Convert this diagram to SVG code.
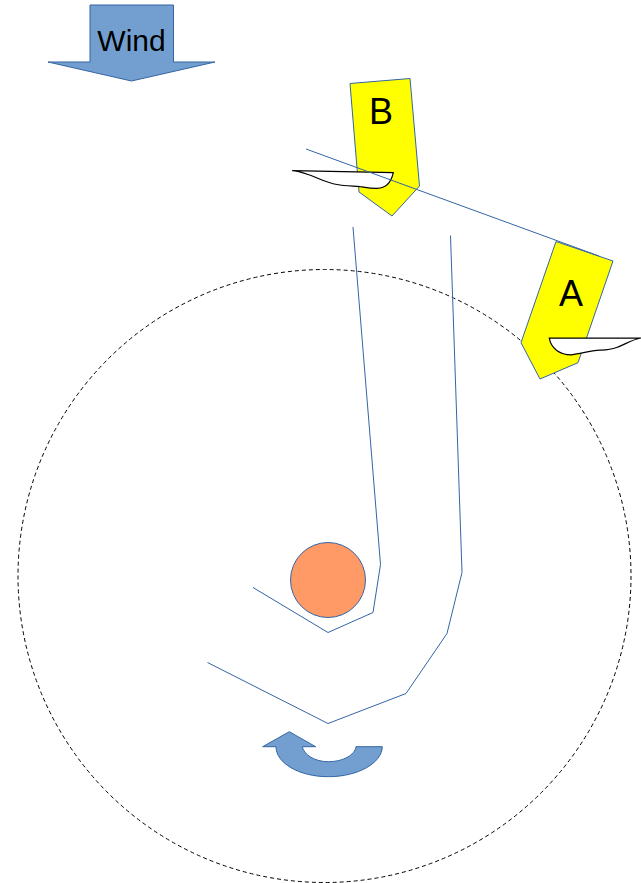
<svg xmlns="http://www.w3.org/2000/svg" width="641" height="883" viewBox="0 0 641 883">
<style>
.blue{fill:#729fcf;stroke:#3465a4;stroke-width:1}
.boat{fill:#ffff00;stroke:#3465a4;stroke-width:1}
.sail{fill:#fff;stroke:#000;stroke-width:1.2}
.line{fill:none;stroke:#3465a4;stroke-width:1}
text{font-family:"Liberation Sans",Arial,sans-serif;fill:#000;text-anchor:middle}
</style>
<rect width="641" height="883" fill="#fff"/>
<g id="orbit"><circle cx="324.5" cy="576" r="306.5" fill="none" stroke="#000" stroke-width="1" stroke-dasharray="4 3"/></g>
<g id="wind"><path class="blue" d="M90 5H173.500V62H215L131.500 81L48 62H90Z"/><text x="131.500" y="50.500" font-size="30">Wind</text></g>
<g id="boat-b"><path class="boat" d="M350 83.500L410 78.500L419.500 186L392 216L359 192Z"/><path class="sail" d="M292.300 170.700L393.300 172.700C391 183 386 188.500 376.700 188.300C368 188.500 365 187 360 186.700C352 186 345 186 337 184.500C326 183 316 177 308 174.500C302 172.500 297 171 292.300 170.700Z"/><text x="381" y="124" font-size="36">B</text></g>
<g id="boat-a"><path class="boat" d="M556 241.500L613 261L578 362.700L540 379L521 342.700Z"/><path class="sail" d="M549.300 338.200L641 338C632 339.500 625 344.500 616.700 347.500C610 350 605 350 600 350.200C590 350.500 582 353.500 571.700 354.800C560 355 551 348.500 549.300 338.200Z"/><text x="571" y="306" font-size="36">A</text></g>
<g id="planet"><circle cx="328" cy="580" r="37.500" fill="#ff9966" stroke="#3465a4" stroke-width="1"/></g>
<g id="rotation"><path class="blue" d="M262.700 746.700L289.300 731.700L315.700 746.700H302.300C304 755 315 761.700 328.300 761.700C343 761.700 355 755 356 746.700H382.300C382 763 358 776.700 328.300 776.700C299 776.700 276 763 276 746.700Z"/></g>
<g id="connectors">
<path class="line" d="M306 149L599 256"/>
<path class="line" d="M353 227L380.500 564.500L373 612.500L328 632.500L253 587.500"/>
<path class="line" d="M450.500 235.500L462 572.500L447 633.500L406 693.500L328 723.500L207.500 662.500"/>
</g>
</svg>
